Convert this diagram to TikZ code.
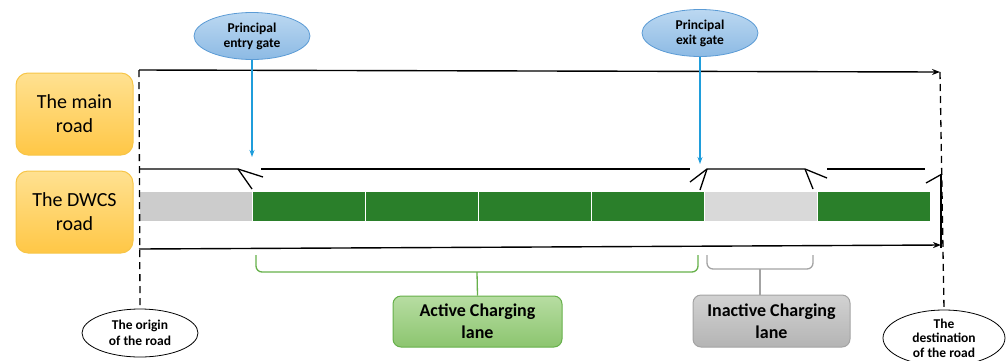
\documentclass[tikz,border=0pt]{standalone}
\usepackage{fontspec}
\setmainfont{Carlito}
\usepackage{tikz}
\usetikzlibrary{shapes.geometric, arrows.meta, positioning}

\definecolor{roadtop}{HTML}{FFE191}
\definecolor{roadbot}{HTML}{FFC746}
\definecolor{roadedge}{HTML}{F7C548}
\definecolor{gatetop}{HTML}{BCD8F1}
\definecolor{gatebot}{HTML}{8CBAE4}
\definecolor{gateedge}{HTML}{5B9BD5}
\definecolor{gateline}{HTML}{1F9DDB}
\definecolor{lanegreen}{HTML}{2A7F2A}
\definecolor{lanegreyA}{HTML}{CCCCCC}
\definecolor{lanegreyB}{HTML}{D9D9D9}
\definecolor{activetop}{HTML}{B7DDA2}
\definecolor{activebot}{HTML}{8CC56F}
\definecolor{activeedge}{HTML}{66B04A}
\definecolor{inactivetop}{HTML}{D2D2D2}
\definecolor{inactivebot}{HTML}{B4B4B4}
\definecolor{inactiveedge}{HTML}{A3A3A3}

\begin{document}
\begin{tikzpicture}[
    x=1pt, y=-1pt,
    roadbox/.style={draw=roadedge, line width=1pt, rounded corners=12pt, top color=roadtop, bottom color=roadbot, minimum width=117pt, minimum height=82pt, align=center, font=\fontsize{20}{24}\selectfont},
    gate/.style={draw=gateedge, line width=0.8pt, ellipse, top color=gatetop, bottom color=gatebot, minimum width=116pt, minimum height=47pt, inner sep=0pt, align=center, font=\bfseries\fontsize{13.5}{15}\selectfont},
    endpoint/.style={draw, line width=0.8pt, ellipse, fill=white, minimum width=116pt, minimum height=48pt, inner sep=0pt, align=center, font=\bfseries\fontsize{13.5}{16}\selectfont},
    lanebox/.style={rounded corners=8pt, line width=1pt, align=center, inner sep=0pt, font=\bfseries\fontsize{18}{22}\selectfont},
    seg/.style={draw=white, line width=1pt, minimum width=113pt, minimum height=30pt, inner sep=0pt},
    road/.style={line width=1.3pt},
    arrow/.style={-{Stealth[length=8pt,width=6pt]}, line width=1.4pt},
    gatearrow/.style={-{Stealth[length=7pt,width=5pt]}, line width=1.4pt, gateline},
    border/.style={line width=1.3pt, dash pattern=on 7pt off 5pt},
    brace/.style={line width=1.3pt, rounded corners=6pt}
]
    \useasboundingbox (0,0) rectangle (1007,360);
    \clip (0,0) rectangle (1007,360);

    % Road names
    \node[roadbox] (mainroad) at (74.5,114) {The main\\road};
    \node[roadbox, below=15pt of mainroad] (dwcs) {The DWCS\\road};

    % Gates
    \node[gate] (entry) at (252,36) {Principal\\entry gate};
    \node[gate] (exit) at (700,33) {Principal\\exit gate};

    % Ends of the road
    \node[endpoint] (origin) at (140,333) {The origin\\of the road};
    \node[endpoint, minimum width=122pt, minimum height=56pt, font=\bfseries\fontsize{13.5}{14.5}\selectfont] (dest) at (944,338) {The\\destination\\of the road};

    % Charging lane segments
    \foreach \i/\col in {0/lanegreyA,1/lanegreen,2/lanegreen,3/lanegreen,4/lanegreen,5/lanegreyB,6/lanegreen}
        \node[seg, fill=\col] (seg\i) at ({195.5+113*\i},206) {};

    % Outer lines
    \coordinate (otop) at (139,70);
    \coordinate (dtop) at (940,72);
    \coordinate (obot) at (139,249);
    \coordinate (dbot) at (941,245);
    \draw[arrow] (otop) -- (dtop);
    \draw[arrow] (obot) -- (dbot);
    \draw[border] (otop) -- (origin.north);
    \draw[border] (dtop) -- (dest.north);
    \draw[road] (941,174) -- (941,248);

    % Lane line with the gates
    \draw[road] (139,169) -- (238,169) -- (263,177);
    \draw[road] (238,169) -- (252,189);
    \draw[road] (261,169) -- (690,169);
    \draw[road] (690,182) -- (707,169) -- (805,169) -- (827,178);
    \draw[road] (700,190) -- (707,169);
    \draw[road] (805,169) -- (813,189);
    \draw[road] (827,169) -- (925,169);
    \draw[road] (926,183) -- (942,174);

    % Gate arrows
    \coordinate (entrytip) at (252,157);
    \coordinate (exittip) at (700,164);
    \draw[gatearrow] (entry) -- (entrytip);
    \draw[gatearrow] (exit) -- (exittip);

    % Lane labels
    \node[lanebox, draw=activeedge, top color=activetop, bottom color=activebot, minimum width=169pt, minimum height=51pt] (active) at (477.5,321.5) {Active Charging\\lane};
    \node[lanebox, draw=inactiveedge, top color=inactivetop, bottom color=inactivebot, minimum width=157pt, minimum height=52pt] (inactive) at (771.5,321) {Inactive Charging\\lane};

    % Braces
    \coordinate (activetip) at (477,272);
    \draw[brace, activeedge] (256,255) |- (activetip) -| (698,255);
    \draw[line width=1.3pt, activeedge] (activetip) -- (active.north);
    \coordinate (inactivetip) at (760,269);
    \draw[brace, inactiveedge] (707,255) |- (inactivetip) -| (813,255);
    \draw[line width=1.3pt, inactiveedge] (inactivetip) -- (inactivetip |- inactive.north);
\end{tikzpicture}
\end{document}
